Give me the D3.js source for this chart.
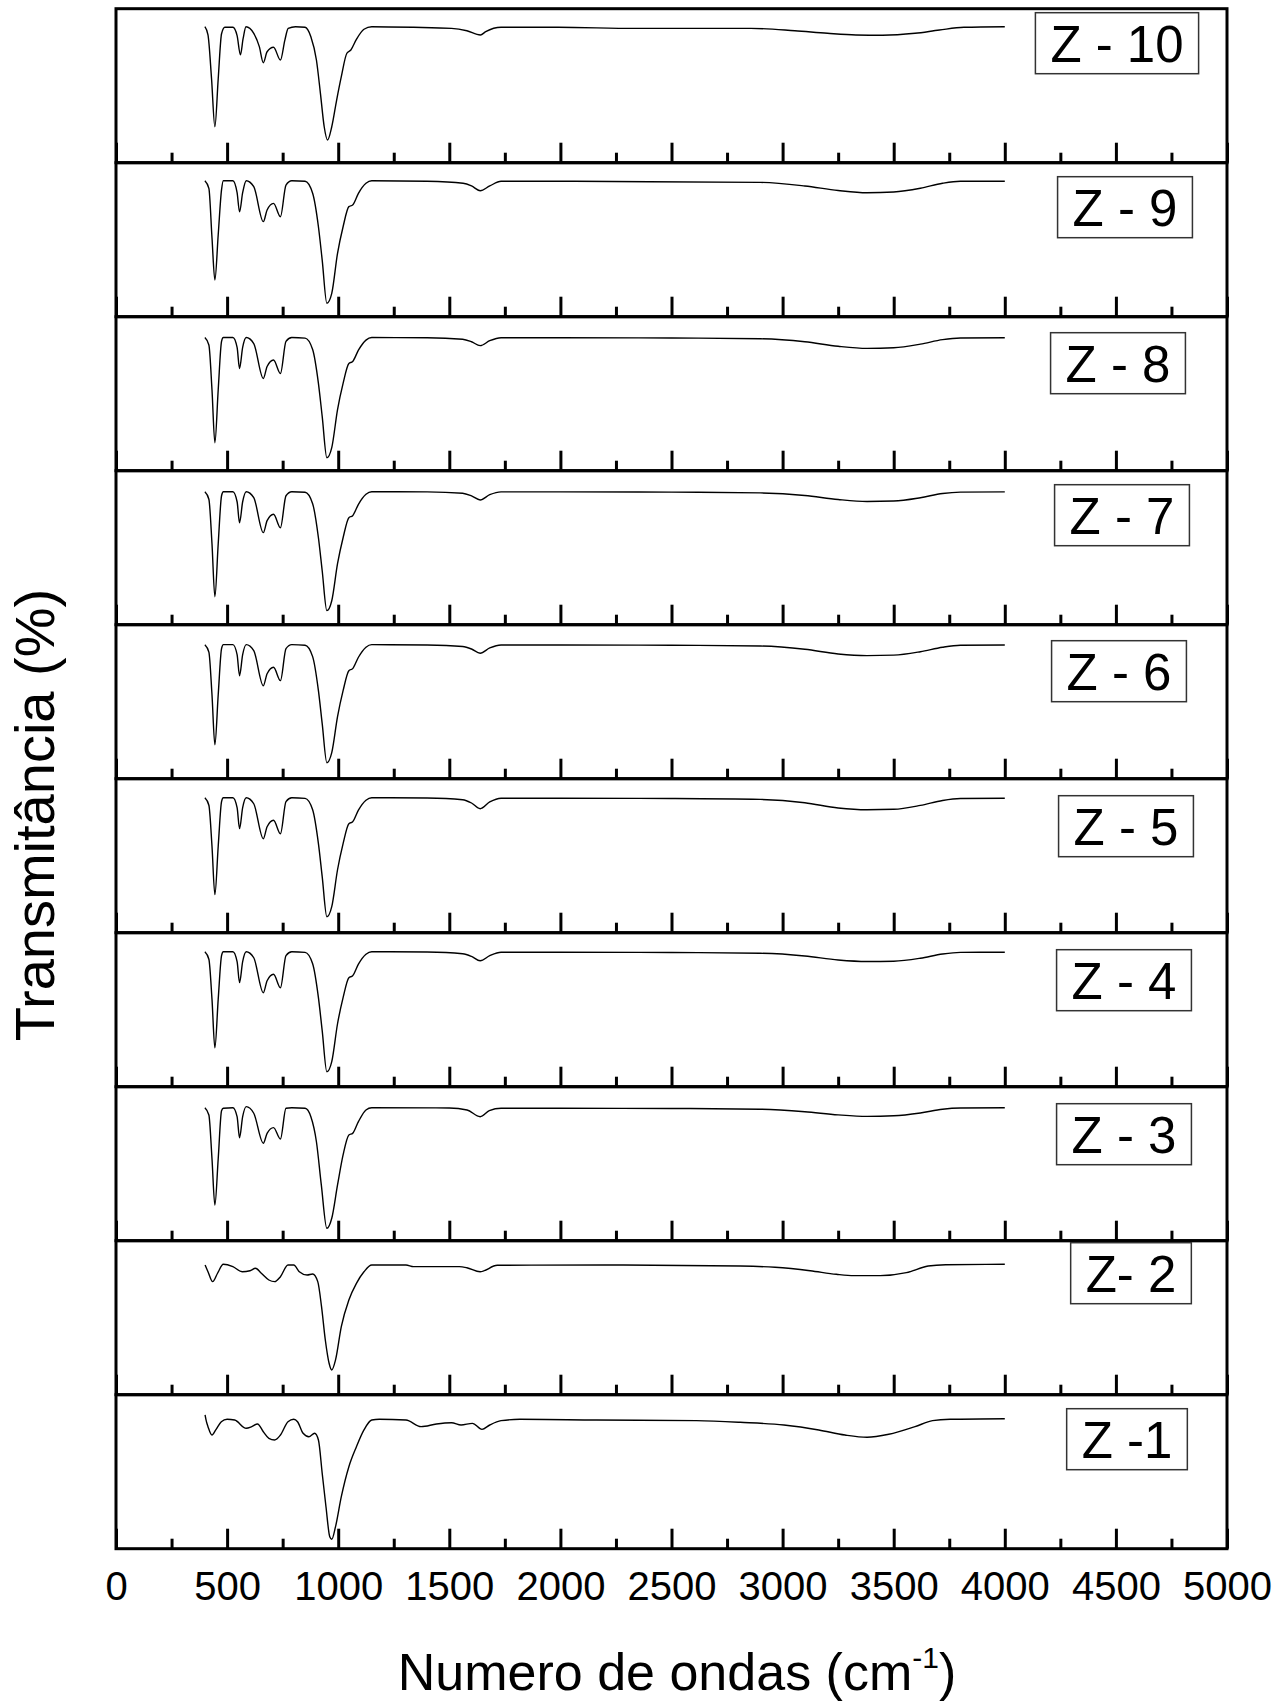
<!DOCTYPE html>
<html>
<head>
<meta charset="utf-8">
<script src="https://cdn.jsdelivr.net/npm/d3@7"></script>
<style>
	body { margin: 0; background: #fff; }
	svg { display: block; font-family: "Liberation Sans", Arial, sans-serif; }
</style>
</head>
<body>
<svg id="chart" width="1286" height="1701"></svg>
<script>
// sample names, top panel first
var samples = ["Z - 10", "Z - 9", "Z - 8", "Z - 7", "Z - 6", "Z - 5", "Z - 4", "Z - 3", "Z- 2", "Z -1"];

// [wavenumber (cm-1), transmittance (%)]
var z10 = [[400,88],[414,82.5],[430,53.3],[445,21.3],[460,53.3],[475,83.3],[490,87.6],[526,87.6],[545,82],[560,69.3],[572,80],[585,88],[620,83.6],[645,74.7],[663,64],[680,71.3],[709,74.3],[740,65.8],[760,79.1],[775,86.9],[808,88],[851,87.6],[877,81.3],[902,65.8],[920,43.6],[937,21.3],[952,12.5],[971,21.3],[993,39.1],[1014,54.7],[1039,70.3],[1057,72.5],[1082,79.6],[1116,86.3],[1151,88],[1339,87.6],[1510,86.9],[1579,85.3],[1640,82.5],[1664,84.7],[1733,87.6],[1990,87.6],[2335,86.9],[2857,86.9],[3055,85.3],[3202,83.6],[3330,82.5],[3450,82.3],[3596,83.6],[3706,85.8],[3816,87.6],[4000,88]];
var z9 = [[400,88],[418,82.9],[432,50],[445,21.8],[460,52],[475,82],[483,88],[526,88],[545,80],[556,67.3],[570,80],[586,88],[620,84],[663,60.7],[680,68.5],[709,72.9],[740,64],[765,85.1],[791,88],[851,87.6],[885,79.6],[911,57.3],[928,35.1],[949,6.3],[971,12.9],[997,39.6],[1022,57.3],[1048,70.7],[1065,71.8],[1091,79.6],[1125,86.3],[1151,88],[1400,87.6],[1562,86.3],[1600,84.5],[1639,81.3],[1682,84.5],[1733,87.6],[2000,87.6],[2400,87.3],[2900,86.9],[3100,84.5],[3250,81.5],[3380,80],[3500,80.5],[3620,83],[3720,86.3],[3800,87.6],[4000,87.6]];
var z8 = [[400,86.1],[418,81.1],[432,51.3],[445,16],[460,51.3],[475,83.5],[483,86.1],[526,86.1],[545,79.5],[556,65.5],[570,79.5],[586,86.1],[620,82.1],[663,58.8],[680,66.8],[709,71.1],[740,62.1],[765,83.5],[791,86.1],[851,85.7],[885,78.1],[911,55.5],[928,33.5],[949,6],[971,12.7],[997,38.1],[1022,55.5],[1048,68.8],[1065,70.1],[1091,77.7],[1125,84.4],[1151,86.1],[1400,86],[1560,85],[1600,83.3],[1639,80.7],[1682,84],[1733,86],[2000,86],[2500,85.8],[2900,85.3],[3100,83.3],[3250,80.3],[3380,78.9],[3500,79.3],[3620,81.7],[3720,84.7],[3800,85.8],[4000,86]];
var z7 = [[400,86],[418,81],[432,51.3],[445,16],[460,51.3],[475,83.3],[483,86],[526,86],[545,79.3],[556,65.3],[570,79.3],[586,86],[620,82],[663,58.7],[680,66.7],[709,71],[740,62],[765,83.3],[791,86],[851,85.6],[885,78],[911,55.3],[928,33.3],[949,6.7],[971,13.3],[997,38],[1022,55.3],[1048,68.7],[1065,70],[1091,77.6],[1125,84.3],[1151,86],[1400,85.9],[1560,85],[1600,83.2],[1639,80.5],[1682,84],[1733,85.9],[2000,85.9],[2500,85.7],[2900,85.2],[3100,83.5],[3250,80.8],[3380,79.5],[3500,79.8],[3620,82],[3720,84.8],[3800,85.7],[4000,85.9]];
var z6 = [[400,86.7],[418,81.7],[432,53.3],[445,20],[460,53.3],[475,84],[483,86.7],[526,86.7],[545,80],[556,66],[570,80],[586,86.7],[620,82.7],[663,59.3],[680,67.3],[709,71.6],[740,62.7],[765,84],[791,86.7],[851,86.3],[885,78.7],[911,56],[928,34],[949,8],[971,14.7],[997,38.7],[1022,56],[1048,69.3],[1065,70.7],[1091,78.3],[1125,85],[1151,86.7],[1400,86.5],[1560,85.5],[1600,83.8],[1639,81],[1682,84.5],[1733,86.5],[2000,86.5],[2500,86.3],[2900,85.8],[3100,83.6],[3250,80.5],[3380,79.4],[3500,79.7],[3620,82],[3720,85],[3800,86.3],[4000,86.5]];
var z5 = [[400,87.3],[418,82.3],[432,55],[445,22.7],[460,55],[475,84.7],[483,87.3],[526,87.3],[545,80.7],[556,66.7],[570,80.7],[586,87.3],[620,83.3],[663,60],[680,68],[709,72.3],[740,63.3],[765,84.7],[791,87.3],[851,86.9],[885,79.3],[911,56.7],[928,34.7],[949,8],[971,14.7],[997,39.3],[1022,56.7],[1048,70],[1065,71.3],[1091,79],[1125,85.6],[1151,87.3],[1400,87.1],[1560,86],[1600,83.8],[1639,80],[1682,84.5],[1733,87],[2000,87],[2500,86.8],[2900,86.2],[3100,84],[3250,80.5],[3380,79.3],[3500,79.6],[3620,82.2],[3720,85.5],[3800,86.8],[4000,87]];
var z4 = [[400,87.3],[418,82.3],[432,55.7],[445,23.3],[460,55.7],[475,84.7],[483,87.3],[526,87.3],[545,80.7],[556,66.7],[570,80.7],[586,87.3],[620,83.3],[663,60],[680,68],[709,72.3],[740,63.3],[765,84.7],[791,87.3],[851,86.9],[885,79.3],[911,56.7],[928,34.7],[949,7.3],[971,14],[997,39.3],[1022,56.7],[1048,70],[1065,71.3],[1091,79],[1125,85.6],[1151,87.3],[1400,87.1],[1560,86],[1600,84.2],[1639,81.3],[1682,84.7],[1733,87],[2000,87],[2500,86.8],[2900,86.3],[3100,84.5],[3250,81.8],[3380,80.8],[3500,81],[3620,83],[3720,85.8],[3800,86.9],[4000,87]];
var z3 = [[400,86],[418,81.1],[432,52],[445,21.1],[460,52],[475,84],[483,85.6],[526,86],[545,80],[556,66],[570,80],[586,86.7],[620,82.3],[663,62.3],[680,68.9],[709,72.7],[740,65.1],[765,85.6],[791,86],[851,85.6],[877,80],[902,63.3],[924,34.5],[949,5.6],[971,12.3],[997,34.5],[1022,54.5],[1048,67.8],[1065,68.9],[1091,76.7],[1125,84.5],[1151,86],[1500,85.8],[1580,84.5],[1639,80],[1680,84],[1733,85.6],[2000,85.6],[2500,85.5],[2900,85],[3100,83.3],[3250,81.2],[3380,80.2],[3500,80.6],[3620,82.5],[3720,85],[3800,85.8],[4000,86]];
var z2 = [[401,83.8],[414,79.3],[435,72.7],[457,78.3],[483,84.3],[526,82.7],[568,79.3],[603,80],[628,81.6],[654,78.3],[688,73.8],[714,72.7],[740,76],[774,83.8],[800,83.8],[825,79.3],[860,77.1],[885,77.8],[908,72.7],[925,56],[942,33.8],[959,18.3],[971,13.8],[988,20.5],[1014,42.7],[1048,60.5],[1082,71.6],[1116,79.3],[1151,83.8],[1305,83.8],[1339,82.7],[1425,82.7],[1545,82.7],[1579,82],[1639,79.3],[1716,83.6],[2200,83.8],[2809,83.1],[2966,82.3],[3124,80],[3242,77.6],[3321,76.7],[3439,76.7],[3557,78.7],[3655,83.1],[3734,84],[4000,84.3]];
var z1 = [[401,86.5],[407,82],[414,78.7],[432,73.1],[449,76.5],[474,82],[500,83.6],[534,83.1],[586,77.6],[611,78.7],[637,80.5],[663,75.3],[688,70.9],[714,69.8],[740,73.1],[774,82],[800,83.6],[817,82],[842,74.3],[868,72],[894,74.3],[911,69.8],[928,47.6],[945,25.3],[962,5.3],[971,3.6],[988,12],[1014,32],[1048,52],[1082,65.3],[1116,76.5],[1151,83.1],[1185,83.6],[1305,83.1],[1373,78.7],[1442,80.5],[1510,81.3],[1553,79.8],[1604,80.9],[1647,76.9],[1682,79.8],[1733,82.7],[1818,83.6],[2161,83.1],[2612,82.7],[2809,81.6],[3006,79.8],[3163,76.5],[3281,73.1],[3380,71.6],[3478,73.6],[3596,78.7],[3675,82.7],[3754,83.6],[4000,84]];

var spectra = [z10, z9, z8, z7, z6, z5, z4, z3, z2, z1];

var majorTicks = d3.range(0, 5001, 500);
var minorTicks = d3.range(250, 5000, 500);

var xTitle = "Numero de ondas (cm";
var yTitle = "Transmitância (%)";

// layout
var plotLeft = 116, plotRight = 1227, plotTop = 8.7, panelH = 154;
var labelDrop = [4, 14, 16, 14, 16, 17, 17, 17, 2, 14];
var labelX = [1117, 1125, 1118, 1122, 1119, 1126, 1124, 1124, 1131, 1127];

var svg = d3.select("#chart");

var x = d3.scaleLinear()
	.domain([0, 5000])
	.range([plotLeft, plotRight]);

var line = d3.line()
	.x((d) => x(d[0]))
	.curve(d3.curveMonotoneX);

samples.forEach(function(name, i) {
	var y0 = plotTop + i * panelH;
	var last = i === samples.length - 1;

	var y = d3.scaleLinear()
		.domain([0, 100])
		.range([y0 + 150, y0]);

	var g = svg.append("g")
		.attr("class", "panel");

	g.append("path")
		.datum(spectra[i])
		.attr("fill", "none")
		.attr("stroke", "#000")
		.attr("stroke-width", 1.4)
		.attr("stroke-linejoin", "round")
		.attr("d", line.y((d) => y(d[1])));

	// minor ticks
	g.append("g")
		.attr("transform", "translate(0," + (y0 + panelH) + ")")
		.call(d3.axisBottom(x).tickValues(minorTicks).tickSize(-10).tickFormat(""))
		.call((a) => a.select(".domain").remove());

	// major ticks, labels only on the bottom panel
	var major = g.append("g")
		.attr("class", "major")
		.attr("transform", "translate(0," + (y0 + panelH) + ")")
		.call(d3.axisBottom(x).tickValues(majorTicks).tickSize(-20).tickPadding(23)
			.tickFormat(last ? d3.format("d") : ""))
		.call((a) => a.select(".domain").remove());

	g.selectAll(".tick line")
		.attr("stroke", "#000")
		.attr("stroke-width", 3);

	major.selectAll("text")
		.attr("fill", "#000")
		.style("font-size", "40px")
		.style("font-family", "'Liberation Sans', Arial, sans-serif");

	g.append("rect")
		.attr("x", plotLeft)
		.attr("y", y0)
		.attr("width", plotRight - plotLeft)
		.attr("height", panelH)
		.attr("fill", "none")
		.attr("stroke", "#000")
		.attr("stroke-width", 3);

	// sample label in a box
	var lab = g.append("text")
		.attr("x", labelX[i])
		.attr("y", y0 + labelDrop[i] + 49)
		.attr("text-anchor", "middle")
		.style("font-size", "51px")
		.text(name);

	var bb = lab.node().getBBox();
	g.insert("rect", () => lab.node())
		.attr("x", bb.x - 15)
		.attr("y", y0 + labelDrop[i])
		.attr("width", bb.width + 30)
		.attr("height", 61)
		.attr("fill", "#fff")
		.attr("stroke", "#333")
		.attr("stroke-width", 1.5);
});

var xt = svg.append("text")
	.attr("x", 677)
	.attr("y", 1690)
	.attr("text-anchor", "middle")
	.style("font-size", "52px");
xt.append("tspan").text(xTitle);
xt.append("tspan")
	.attr("dy", -22)
	.style("font-size", "30px")
	.text("-1");
xt.append("tspan")
	.attr("dy", 22)
	.text(")");

svg.append("text")
	.attr("transform", "translate(54,815) rotate(-90)")
	.attr("text-anchor", "middle")
	.style("font-size", "56px")
	.text(yTitle);
</script>
</body>
</html>
